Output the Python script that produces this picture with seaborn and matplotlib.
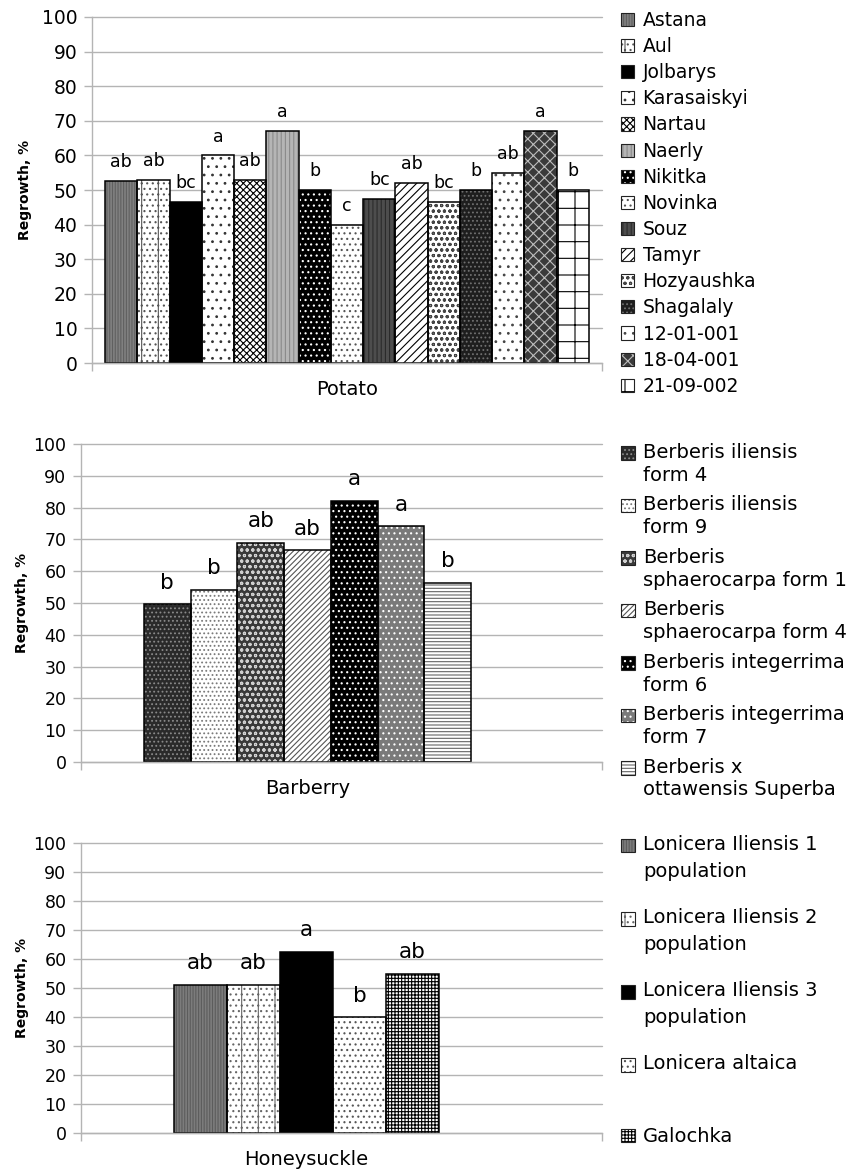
import matplotlib
matplotlib.use("Agg")
import matplotlib.pyplot as plt
from matplotlib.patches import Patch, Rectangle
from matplotlib.legend_handler import HandlerBase
import pandas as pd
import seaborn as sns

# ---- data -------------------------------------------------------------
potato_varieties = ["Astana", "Aul", "Jolbarys", "Karasaiskyi", "Nartau", "Naerly",
                    "Nikitka", "Novinka", "Souz", "Tamyr", "Hozyaushka", "Shagalaly",
                    "12-01-001", "18-04-001", "21-09-002"]
potato_values = [52.5, 53.0, 46.5, 60.0, 53.0, 67.0, 50.0, 40.0, 47.5, 52.0, 46.5,
                 50.0, 55.0, 67.0, 50.0]
potato_letters = ["ab", "ab", "bc", "a", "ab", "a", "b", "c", "bc", "ab", "bc", "b",
                  "ab", "a", "b"]

barberry_varieties = ["Berberis iliensis\nform 4", "Berberis iliensis\nform 9",
                      "Berberis\nsphaerocarpa form 1", "Berberis\nsphaerocarpa form 4",
                      "Berberis integerrima\nform 6", "Berberis integerrima\nform 7",
                      "Berberis x\nottawensis Superba"]
barberry_values = [49.7, 54.2, 69.0, 66.7, 82.2, 74.2, 56.4]
barberry_letters = ["b", "b", "ab", "ab", "a", "a", "b"]

honeysuckle_varieties = ["Lonicera Iliensis 1\npopulation", "Lonicera Iliensis 2\npopulation",
                         "Lonicera Iliensis 3\npopulation", "Lonicera altaica\n", "Galochka"]
honeysuckle_values = [51.2, 51.2, 62.5, 40.0, 55.0]
honeysuckle_letters = ["ab", "ab", "a", "b", "ab"]

# ---- fill styles: (face colour, hatch, hatch colour) -------------------
potato_styles = [
    ("#808080", "||||||", "#606060"),
    ("white", "|...", "#555555"),
    ("black", "", "black"),
    ("white", "..", "#333333"),
    ("white", "xxxxx", "black"),
    ("#b5b5b5", "||||", "#8a8a8a"),
    ("black", "...", "white"),
    ("white", "...", "#555555"),
    ("#4d4d4d", "||||", "#2b2b2b"),
    ("white", "////", "black"),
    ("white", "ooo", "#444444"),
    ("#1e1e1e", "....", "#707070"),
    ("white", "..", "#444444"),
    ("#3a3a3a", "xxx", "#bdbdbd"),
    ("white", "+", "black"),
]
barberry_styles = [
    ("#2a2a2a", "....", "#8a8a8a"),
    ("white", "....", "#7a7a7a"),
    ("#3a3a3a", "ooo", "#d0d0d0"),
    ("white", "//////", "#555555"),
    ("black", "...", "white"),
    ("#7a7a7a", "...", "white"),
    ("white", "-----", "#666666"),
]
honeysuckle_styles = [
    ("#7c7c7c", "||||||", "#5c5c5c"),
    ("white", "|...", "#666666"),
    ("black", "", "black"),
    ("white", "...", "#555555"),
    ("white", "+++++", "black"),
]

sns.set_theme(style="white")
plt.rcParams["font.family"] = ["DejaVu Sans"]
plt.rcParams["hatch.linewidth"] = 0.8
plt.rcParams["text.color"] = "black"
plt.rcParams["axes.labelcolor"] = "black"

W, H = 857, 1174
fig = plt.figure(figsize=(W / 100, H / 100), dpi=100)

GRID = "#b4b4b4"


class FirstLineSquare(HandlerBase):
    """Legend key drawn as a hatched square level with the first label line."""

    def __init__(self, style, shift):
        super().__init__()
        self.style = style
        self.shift = shift

    def create_artists(self, legend, orig_handle, xdescent, ydescent, width,
                       height, fontsize, trans):
        face, hatch, hcol = self.style
        xy = (-xdescent, -ydescent + self.shift)
        fill = Rectangle(xy, width, height, facecolor=face, hatch=hatch,
                         edgecolor=hcol, lw=0, transform=trans)
        edge = Rectangle(xy, width, height, fill=False, edgecolor="#222222",
                         lw=0.8, transform=trans)
        return [fill, edge]


def draw_panel(rect, crop, varieties, values, letters, styles, xlim, tick_fs,
               letter_fs, cat_fs, ylabel_x, letter_off, cat_pad,
               leg_xy, leg_fs, leg_spacing, leg_linespacing, line_shift):
    ax = fig.add_axes(rect)
    df = pd.DataFrame({"crop": crop, "variety": varieties, "regrowth": values})
    sns.barplot(data=df, x="crop", y="regrowth", hue="variety", hue_order=varieties,
                palette=["white"] * len(varieties), width=0.8, dodge=True,
                saturation=1, legend=False, errorbar=None, ax=ax)

    for container, (face, hatch, hcol), letter in zip(ax.containers, styles, letters):
        bar = container.patches[0]
        bar.set_facecolor(face)
        bar.set_hatch(hatch)
        bar.set_edgecolor(hcol)
        bar.set_linewidth(0)
        ax.add_patch(Rectangle((bar.get_x(), bar.get_y()), bar.get_width(),
                               bar.get_height(), fill=False, ec="black", lw=1.1,
                               zorder=bar.get_zorder() + 0.1))
        ax.annotate(letter, xy=(bar.get_x() + bar.get_width() / 2, bar.get_height()),
                    xytext=(0, letter_off), textcoords="offset points",
                    ha="center", va="baseline", fontsize=letter_fs)

    ax.set_ylim(0, 100)
    ax.set_yticks(range(0, 101, 10))
    ax.set_xlim(*xlim)
    ax.set_axisbelow(True)
    ax.yaxis.grid(True, color=GRID, lw=1)
    for gl in ax.get_ygridlines():
        gl.set_clip_on(False)
    for side in ("top", "right"):
        ax.spines[side].set_visible(False)
    for side in ("left", "bottom"):
        ax.spines[side].set_color(GRID)
        ax.spines[side].set_linewidth(1)

    ax.tick_params(axis="y", left=True, length=5.5, width=1, color=GRID, pad=5,
                   labelsize=tick_fs, labelcolor="black")
    ax.tick_params(axis="x", which="major", bottom=True, length=0, pad=cat_pad,
                   labelsize=cat_fs, labelcolor="black")
    ax.set_xticks(list(xlim), minor=True)
    ax.tick_params(axis="x", which="minor", bottom=True, length=5.5, width=1,
                   color=GRID)
    ax.set_xlabel("")
    ax.set_ylabel("Regrowth, %", fontsize=10, fontweight="bold")
    ax.yaxis.set_label_coords(ylabel_x, 0.5)

    handles, handler_map = [], {}
    for style, label in zip(styles, varieties):
        h = Patch(facecolor=style[0])
        handles.append(h)
        handler_map[h] = FirstLineSquare(style, line_shift * label.count("\n") / 2)
    leg = ax.legend(handles, varieties, handler_map=handler_map, loc="upper left",
                    bbox_to_anchor=leg_xy, bbox_transform=fig.transFigure,
                    frameon=False, fontsize=leg_fs, handlelength=0.7,
                    handleheight=0.7, handletextpad=0.45, labelspacing=leg_spacing,
                    borderpad=0, borderaxespad=0)
    for t in leg.get_texts():
        t.set_linespacing(leg_linespacing)
    return ax


draw_panel([92 / W, 1 - 363 / H, 510 / W, 346 / H], "Potato",
           potato_varieties, potato_values, potato_letters, potato_styles,
           (-0.4215, 0.4215), 13.5, 12.5, 14, -0.118, 10, 12,
           (621 / W, 1 - 11 / H), 13.5, 0.38, 1.2, 0)

draw_panel([81 / W, 1 - 762 / H, 521 / W, 318 / H], "Barberry",
           barberry_varieties, barberry_values, barberry_letters, barberry_styles,
           (-0.554, 0.7205), 12.5, 15.5, 14, -0.10, 11, 12,
           (621 / W, 1 - 443 / H), 14, 0.55, 1.25, 16.5)

draw_panel([81 / W, 1 - 1133 / H, 521 / W, 290 / H], "Honeysuckle",
           honeysuckle_varieties, honeysuckle_values, honeysuckle_letters,
           honeysuckle_styles, (-0.681, 0.892), 12.5, 15.5, 14, -0.10, 11, 12,
           (621 / W, 1 - 835 / H), 14, 1.38, 1.55, 19.0)

fig.savefig("out.png", dpi=100, facecolor="white")
